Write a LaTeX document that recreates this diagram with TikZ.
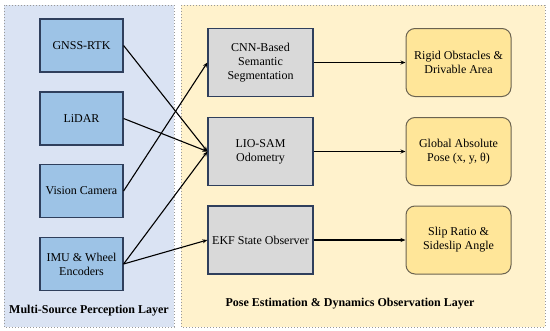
\documentclass[tikz,border=0pt]{standalone}
\usepackage{fontspec}
\setmainfont{LiberationSerif}[Extension=.ttf,UprightFont=*-Regular,BoldFont=*-Bold,ItalicFont=*-Italic,BoldItalicFont=*-BoldItalic]
\usetikzlibrary{arrows.meta}
\definecolor{panelL}{HTML}{DAE3F3}
\definecolor{panelR}{HTML}{FFF2CC}
\definecolor{boxL}{HTML}{9DC3E6}
\definecolor{boxM}{HTML}{D9D9D9}
\definecolor{boxR}{HTML}{FFE699}
\definecolor{edgeB}{HTML}{2F3F5C}
\definecolor{edgeR}{HTML}{6B6350}
\tikzset{
  x=1pt,y=-1pt,
  txt/.style={font=\fontsize{12}{14}\selectfont},
  panel/.style={draw=gray!80,dotted,line width=1pt},
  sensor/.style={txt,draw=edgeB,fill=boxL,line width=1.2pt,minimum width=83pt,minimum height=53pt,align=center,inner sep=1pt},
  proc/.style={txt,draw=edgeB,fill=boxM,line width=1.2pt,minimum width=105pt,minimum height=68pt,align=center,inner sep=1pt},
  outp/.style={txt,draw=edgeR,fill=boxR,line width=1pt,rounded corners=9pt,minimum width=105pt,minimum height=68pt,align=center,inner sep=1pt},
  conn/.style={line width=1.1pt,-{Stealth[length=5pt,width=4pt]}},
  layerlabel/.style={font=\bfseries\fontsize{12}{14}\selectfont}
}
\begin{document}
\begin{tikzpicture}
\useasboundingbox (0,0) rectangle (550,330);
\fill[white] (0,0) rectangle (550,330);
\draw[panel,fill=panelL] (4,5) rectangle (174,327);
\draw[panel,fill=panelR] (181,5) rectangle (545,327);
\node[sensor] (gnss) at (81.5,45.5) {GNSS-RTK};
\node[sensor] (lidar) at (81.5,118.5) {LiDAR};
\node[sensor] (cam) at (81.5,191) {Vision Camera};
\node[sensor] (imu) at (81.5,264) {IMU \& Wheel\\Encoders};
\node[proc] (cnn) at (260.5,62.5) {CNN-Based\\Semantic\\Segmentation};
\node[proc] (lio) at (260.5,151.5) {LIO-SAM\\Odometry};
\node[proc] (ekf) at (260.5,240) {EKF State Observer};
\node[outp] (rigid) at (458.5,62.5) {Rigid Obstacles \&\\Drivable Area};
\node[outp] (pose) at (458.5,151.5) {Global Absolute\\Pose (x, y, θ)};
\node[outp] (slip) at (458.5,240) {Slip Ratio \&\\Sideslip Angle};
\node[layerlabel] (lblL) at (89,311) {Multi-Source Perception Layer};
\node[layerlabel] (lblR) at (350,304) {Pose Estimation \& Dynamics Observation Layer};
\draw[conn] (gnss.east) -- (lio.west);
\draw[conn] (lidar.east) -- (lio.west);
\draw[conn] (cam.east) -- (cnn.west);
\draw[conn] (imu.east) -- (lio.west);
\draw[conn] (imu.east) -- (ekf.west);
\draw[conn] (cnn.east) -- (rigid.west);
\draw[conn] (lio.east) -- (pose.west);
\draw[conn] (ekf.east) -- (slip.west);
\end{tikzpicture}
\end{document}
